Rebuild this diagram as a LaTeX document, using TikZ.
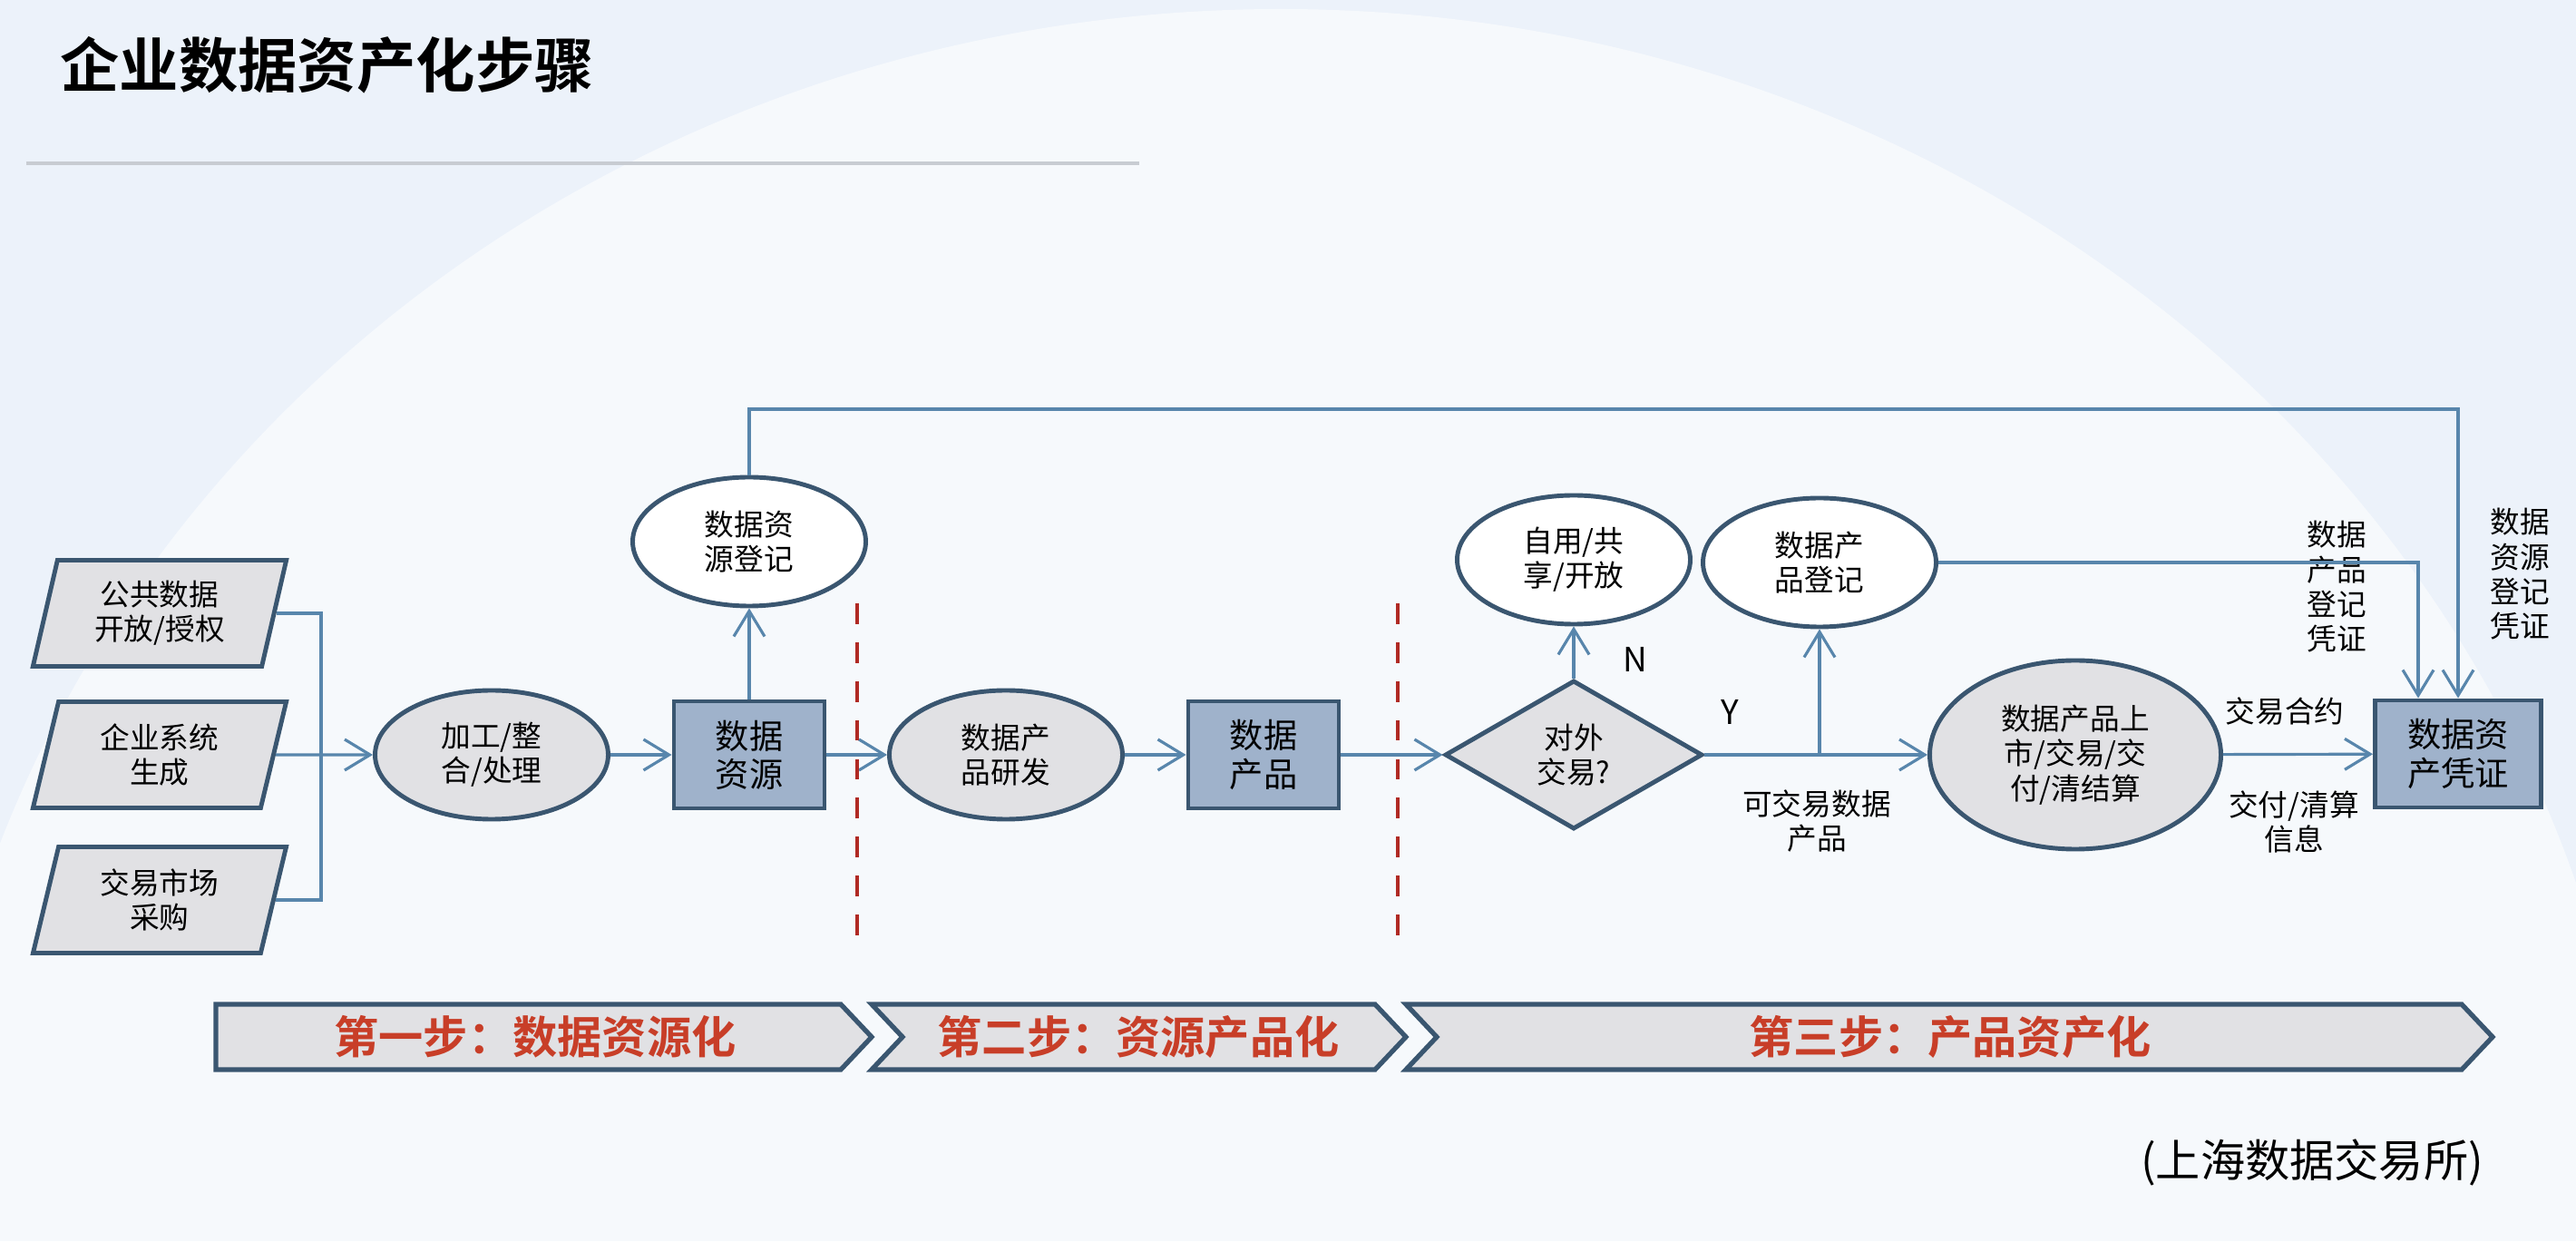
\documentclass[tikz,border=0pt]{standalone}
\usepackage{fontspec}
\setmainfont{Noto Sans CJK SC}[BoldFont={Noto Sans CJK SC Bold}]
\usetikzlibrary{shapes.geometric,arrows.meta}
\definecolor{edgeblue}{RGB}{58,86,112}
\definecolor{flowblue}{RGB}{88,134,172}
\definecolor{boxblue}{RGB}{159,178,203}
\definecolor{shapegray}{RGB}{225,225,228}
\definecolor{stepred}{RGB}{200,62,40}
\definecolor{dashred}{RGB}{176,42,36}
\definecolor{bgblue}{RGB}{236,242,250}
\definecolor{rulegray}{RGB}{200,204,210}

\begin{document}
\begin{tikzpicture}[
    font=\fontsize{9.3}{10.9}\selectfont,
    srcbox/.style={trapezium, trapezium left angle=76.5, trapezium right angle=103.5,
        trapezium stretches=true, draw=edgeblue, line width=1.4pt, fill=shapegray,
        minimum width=2.8cm, minimum height=1.17cm, align=center, inner sep=0pt},
    proc/.style={ellipse, draw=edgeblue, line width=1.4pt, fill=shapegray,
        minimum width=2.57cm, minimum height=1.42cm, align=center, inner sep=0pt},
    reg/.style={proc, fill=white},
    asset/.style={rectangle, draw=edgeblue, line width=1.4pt, fill=boxblue,
        minimum width=1.66cm, minimum height=1.18cm, align=center,
        font=\fontsize{10.6}{12}\selectfont},
    flow/.style={draw=flowblue, line width=0.9pt, -{Straight Barb[length=2.8mm,width=3.4mm]}},
    link/.style={draw=flowblue, line width=0.9pt},
    divider/.style={draw=dashred, line width=1.1pt, dash pattern=on 6.5pt off 5.7pt},
    chevron/.style={draw=edgeblue, line width=1.5pt, fill=shapegray, line join=miter},
    steptext/.style={text=stepred, font=\fontsize{14}{16}\selectfont\bfseries}
]
    \useasboundingbox (0,0) rectangle (28.4,13.68);

    % Background
    \fill[bgblue] (0,0) rectangle (28.4,13.68);
    \fill[white, opacity=0.55] (14.12,-0.32) ellipse (15.0 and 13.9);

    % Title
    \node[anchor=west, font=\fontsize{18.6}{20}\selectfont\bfseries] (title) at (0.54,12.96) {企业数据资产化步骤};
    \draw[rulegray, line width=1.2pt] (0.29,11.88) -- (12.56,11.88);

    % Data sources
    \node[srcbox] (pubsrc) at (1.76,6.92) {公共数据\\开放/授权};
    \node[srcbox] (entsrc) at (1.76,5.36) {企业系统\\生成};
    \node[srcbox] (buysrc) at (1.76,3.76) {交易市场\\采购};

    % Step 1
    \node[proc] (proc) at (5.42,5.36) {加工/整\\合/处理};
    \node[asset] (res) at (8.26,5.36) {数据\\资源};
    \node[reg] (resreg) at (8.26,7.71) {数据资\\源登记};

    % Step 2
    \node[proc] (dev) at (11.09,5.36) {数据产\\品研发};
    \node[asset] (prod) at (13.93,5.36) {数据\\产品};

    % Step 3
    \node[diamond, draw=edgeblue, line width=1.4pt, fill=shapegray, aspect=1.7,
        minimum width=2.84cm, minimum height=1.64cm, inner sep=0pt, align=center]
        (trade) at (17.35,5.36) {对外\\交易?};
    \node[reg] (selfuse) at (17.35,7.51) {自用/共\\享/开放};
    \node[reg] (prodreg) at (20.06,7.48) {数据产\\品登记};
    \node[proc, minimum width=3.21cm, minimum height=2.08cm] (listing) at (22.88,5.36) {数据产品上\\市/交易/交\\付/清结算};
    \node[asset, minimum width=1.83cm] (cert) at (27.10,5.37) {数据资\\产凭证};

    % Labels
    \node[font=\fontsize{10.5}{12}\selectfont] (nlab) at (18.03,6.41) {N};
    \node[font=\fontsize{10.5}{12}\selectfont] (ylab) at (19.07,5.83) {Y};
    \node[align=center] (tradable) at (20.03,4.63) {可交易数据\\产品};
    \node[align=center] (prodcert) at (25.76,7.21) {数据\\产品\\登记\\凭证};
    \node[align=center] (rescert) at (27.78,7.35) {数据\\资源\\登记\\凭证};
    \node (contract) at (25.19,5.84) {交易合约};
    \node[align=center] (settle) at (25.29,4.62) {交付/清算\\信息};

    % Arrows
    \coordinate (bus) at (3.54,5.36);
    \coordinate (topR) at (27.10,9.17);
    \draw[link] (pubsrc.east) -| (bus) |- (buysrc.east);
    \draw[flow] (entsrc.east) -- (proc);
    \draw[flow] (proc) -- (res);
    \draw[flow] (res) -- (resreg);
    \draw[flow] (res) -- (dev);
    \draw[flow] (dev) -- (prod);
    \draw[flow] (prod) -- (trade);
    \draw[flow] (trade) -- (selfuse);
    \draw[flow] (trade) -- (listing);
    \draw[flow] (trade.east -| prodreg.south) -- (prodreg);
    \draw[flow] (listing) -- (cert);
    \draw[flow] (prodreg.east) -| ([xshift=-4.4mm]cert.north);
    \draw[flow] (resreg.north) |- (topR) -- (cert.north);

    % Stage dividers
    \foreach \x in {9.45,15.41} {
        \draw[divider] (\x,7.03) -- (\x,3.32);
    }

    % Step banners
    \draw[chevron] (2.38,2.61) -- (9.27,2.61) -- (9.61,2.25) -- (9.27,1.89) -- (2.38,1.89) -- cycle;
    \draw[chevron] (9.61,2.61) -- (15.16,2.61) -- (15.50,2.25) -- (15.16,1.89) -- (9.61,1.89) -- (9.95,2.25) -- cycle;
    \draw[chevron] (15.50,2.61) -- (27.14,2.61) -- (27.48,2.25) -- (27.14,1.89) -- (15.50,1.89) -- (15.84,2.25) -- cycle;
    \node[steptext] (step1) at (5.90,2.25) {第一步：数据资源化};
    \node[steptext] (step2) at (12.55,2.25) {第二步：资源产品化};
    \node[steptext] (step3) at (21.50,2.25) {第三步：产品资产化};

    % Source
    \node[font=\fontsize{14}{16}\selectfont] (source) at (25.49,0.87) {(上海数据交易所)};
\end{tikzpicture}
\end{document}
